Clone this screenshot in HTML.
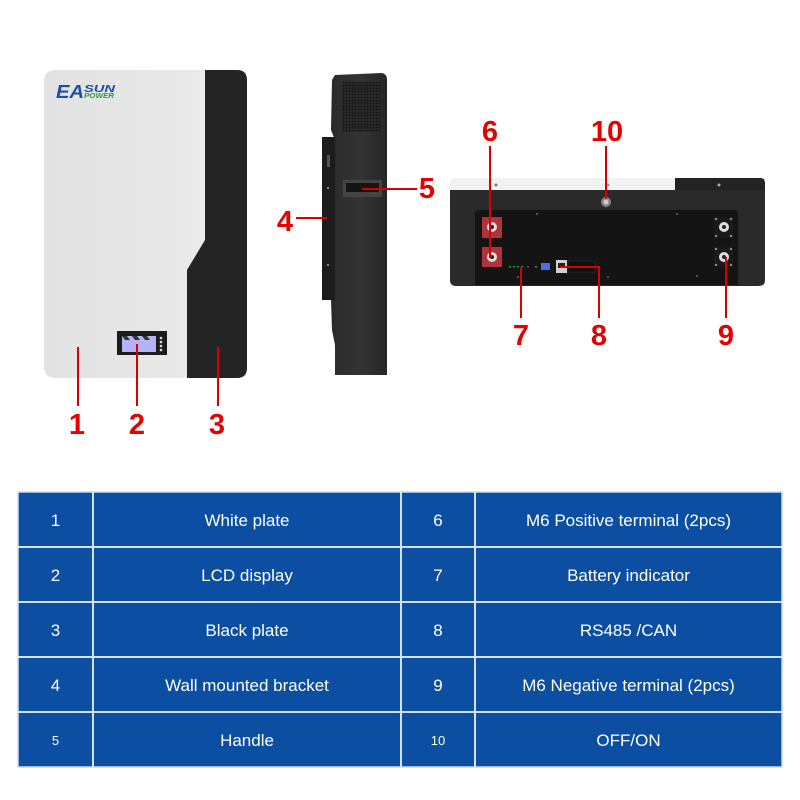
<!DOCTYPE html>
<html><head><meta charset="utf-8"><style>
html,body{margin:0;padding:0;background:#fff;}
svg{display:block;}
text{font-family:"Liberation Sans",Arial,sans-serif;}
</style></head><body>
<svg width="800" height="800" viewBox="0 0 800 800" xmlns="http://www.w3.org/2000/svg">
<defs>
<linearGradient id="wp" x1="0" y1="0" x2="1" y2="0"><stop offset="0" stop-color="#e2e2e2"/><stop offset="1" stop-color="#ececec"/></linearGradient>
<linearGradient id="sb" x1="0" y1="0" x2="1" y2="0"><stop offset="0" stop-color="#2c2c2c"/><stop offset="0.5" stop-color="#333"/><stop offset="1" stop-color="#262626"/></linearGradient>
<pattern id="mesh" width="3" height="3" patternUnits="userSpaceOnUse"><rect width="3" height="3" fill="#2a2a2a"/><circle cx="1.5" cy="1.5" r="0.9" fill="#111"/></pattern>
</defs>

<!-- FRONT PANEL -->
<rect x="44" y="70" width="203" height="308" rx="10" fill="url(#wp)"/>
<path d="M205,70 L237,70 Q247,70 247,80 L247,368 Q247,378 237,378 L187,378 L187,270 L205,240 Z" fill="#242424"/>
<text x="56" y="98" font-size="18" font-weight="bold" font-style="italic" fill="#1b4fa6" textLength="28" lengthAdjust="spacingAndGlyphs">EA</text>
<text x="84" y="92" font-size="10" font-weight="bold" font-style="italic" fill="#1b4fa6" textLength="31" lengthAdjust="spacingAndGlyphs">SUN</text>
<text x="84" y="98" font-size="7" font-weight="bold" font-style="italic" fill="#2a9a3a" textLength="30" lengthAdjust="spacingAndGlyphs">POWER</text>
<!-- LCD -->
<rect x="117" y="331" width="50" height="24" fill="#1c1c1c"/>
<rect x="122" y="336" width="34" height="16" fill="#b4b4f4"/>
<path d="M122,336 L127,336 L130,340 L125,340 Z M132,336 L137,336 L140,340 L135,340 Z M142,336 L147,336 L150,340 L145,340 Z" fill="#333"/>
<circle cx="161" cy="338" r="1.3" fill="#ddd"/><circle cx="161" cy="342" r="1.3" fill="#ddd"/><circle cx="161" cy="346" r="1.3" fill="#ddd"/><circle cx="161" cy="350" r="1.3" fill="#ddd"/>
<!-- lines 1-3 -->
<line x1="78" y1="347" x2="78" y2="406" stroke="#d80000" stroke-width="2"/>
<line x1="137" y1="344" x2="137" y2="406" stroke="#d80000" stroke-width="2"/>
<line x1="218" y1="347" x2="218" y2="406" stroke="#d80000" stroke-width="2"/>
<g font-size="29" font-weight="bold" fill="#e60000" text-anchor="middle">
<text x="77" y="434">1</text><text x="137" y="434">2</text><text x="217" y="434">3</text>
<text x="285" y="231">4</text><text x="427" y="198">5</text>
<text x="490" y="141">6</text><text x="521" y="345">7</text><text x="599" y="345">8</text><text x="726" y="345">9</text><text x="607" y="141">10</text>
</g>

<!-- SIDE VIEW -->
<path d="M332,80 L335,75 L335,140 L331,130 Z" fill="#2a2a2a"/>
<path d="M331,300 L335,300 L335,345 L332,330 Z" fill="#2a2a2a"/>
<path d="M335,75 L382,73 Q387,74 387,80 L387,375 L335,375 Z" fill="url(#sb)"/>
<rect x="342" y="82" width="38" height="50" fill="url(#mesh)"/>
<rect x="322" y="137" width="13" height="163" fill="#1c1c1c"/>
<rect x="327" y="155" width="3" height="12" fill="#555"/>
<circle cx="328" cy="188" r="1" fill="#aaa"/><circle cx="328" cy="265" r="1" fill="#aaa"/>
<rect x="343" y="180" width="39" height="17" fill="#444"/>
<rect x="346" y="183" width="33" height="9" fill="#141414"/>
<line x1="296" y1="218" x2="327" y2="218" stroke="#d80000" stroke-width="2"/>
<line x1="362" y1="189" x2="417" y2="189" stroke="#d80000" stroke-width="2"/>

<!-- REAR VIEW -->
<path d="M450,190 L450,182 Q450,178 454,178 L675,178 L675,190 Z" fill="#f2f2f2"/>
<path d="M675,178 L760,178 Q765,178 765,183 L765,190 L675,190 Z" fill="#222"/>
<path d="M450,190 L765,190 L765,280 Q765,286 759,286 L456,286 Q450,286 450,280 Z" fill="#2a2a2a"/>
<path d="M475,214 Q475,210 479,210 L734,210 Q738,210 738,214 L738,285 L475,285 Z" fill="#141414"/>
<circle cx="496" cy="185" r="1.5" fill="#777"/><circle cx="608" cy="185" r="1.5" fill="#999"/><circle cx="719" cy="185" r="1.5" fill="#aaa"/>
<circle cx="606" cy="202" r="5" fill="#888"/><circle cx="606" cy="202" r="2.5" fill="#ccc"/>
<!-- positive terminals -->
<rect x="482" y="217" width="20" height="21" fill="#b0333a"/>
<rect x="482" y="247" width="20" height="20" fill="#b0333a"/>
<circle cx="492" cy="227" r="5" fill="#ddd"/><circle cx="492" cy="227" r="2" fill="#222"/>
<circle cx="492" cy="257" r="5" fill="#ddd"/><circle cx="492" cy="257" r="2" fill="#222"/>
<!-- negative terminals -->
<rect x="714" y="217" width="19" height="21" fill="#1a1a1a"/>
<rect x="714" y="247" width="19" height="20" fill="#1a1a1a"/>
<circle cx="724" cy="227" r="5" fill="#ddd"/><circle cx="724" cy="227" r="2" fill="#222"/>
<circle cx="724" cy="257" r="5" fill="#ddd"/><circle cx="724" cy="257" r="2" fill="#222"/>
<g fill="#888"><circle cx="716" cy="219" r="1.2"/><circle cx="731" cy="219" r="1.2"/><circle cx="716" cy="236" r="1.2"/><circle cx="731" cy="236" r="1.2"/><circle cx="716" cy="249" r="1.2"/><circle cx="731" cy="249" r="1.2"/><circle cx="716" cy="265" r="1.2"/><circle cx="731" cy="265" r="1.2"/></g>
<!-- leds, dip, ports -->
<g fill="#2c9a3c"><rect x="509" y="266" width="2" height="1.5"/><rect x="513" y="266" width="2" height="1.5"/><rect x="517" y="266" width="2" height="1.5"/><rect x="521" y="266" width="2" height="1.5"/><rect x="535" y="266" width="2" height="1.5"/></g>
<rect x="527" y="266" width="2" height="1.5" fill="#a33"/>
<rect x="541" y="263" width="9" height="7" fill="#4a6fe0"/>
<rect x="556" y="260" width="11" height="13" fill="#cfcfcf"/>
<rect x="558" y="263" width="7" height="5" fill="#222"/>
<rect x="568" y="261" width="27" height="11" fill="#0e0e0e" stroke="#333" stroke-width="0.6"/>
<g fill="#666"><circle cx="537" cy="214" r="1"/><circle cx="677" cy="214" r="1"/><circle cx="518" cy="277" r="1"/><circle cx="608" cy="277" r="1"/><circle cx="697" cy="276" r="1"/></g>
<!-- lines 6-10 -->
<line x1="490" y1="146" x2="490" y2="258" stroke="#d80000" stroke-width="2"/>
<line x1="606" y1="146" x2="606" y2="199" stroke="#d80000" stroke-width="2"/>
<line x1="521" y1="268" x2="521" y2="318" stroke="#d80000" stroke-width="2"/>
<polyline points="560,267 599,267 599,318" fill="none" stroke="#d80000" stroke-width="2"/>
<line x1="726" y1="257" x2="726" y2="318" stroke="#d80000" stroke-width="2"/>

<!-- TABLE -->
<rect x="18" y="492" width="764" height="275" fill="#0b4ea2" stroke="#c9daf2" stroke-width="1.5"/>
<g stroke="#d4e1f4" stroke-width="2">
<line x1="93" y1="492" x2="93" y2="767"/><line x1="401" y1="492" x2="401" y2="767"/><line x1="475" y1="492" x2="475" y2="767"/>
<line x1="18" y1="547" x2="782" y2="547"/><line x1="18" y1="602" x2="782" y2="602"/><line x1="18" y1="657" x2="782" y2="657"/><line x1="18" y1="712" x2="782" y2="712"/>
</g>
<g font-size="17" fill="#fff" text-anchor="middle">
<text x="55.5" y="526">1</text><text x="247" y="526">White plate</text><text x="438" y="526">6</text><text x="628.5" y="526">M6 Positive terminal (2pcs)</text>
<text x="55.5" y="581">2</text><text x="247" y="581">LCD display</text><text x="438" y="581">7</text><text x="628.5" y="581">Battery indicator</text>
<text x="55.5" y="636">3</text><text x="247" y="636">Black plate</text><text x="438" y="636">8</text><text x="628.5" y="636">RS485 /CAN</text>
<text x="55.5" y="691">4</text><text x="247" y="691">Wall mounted bracket</text><text x="438" y="691">9</text><text x="628.5" y="691">M6 Negative terminal (2pcs)</text>
<text x="247" y="746">Handle</text><text x="628.5" y="746">OFF/ON</text>
</g>
<g font-size="13" fill="#fff" text-anchor="middle">
<text x="55.5" y="745">5</text><text x="438" y="745">10</text>
</g>
</svg>
</body></html>
